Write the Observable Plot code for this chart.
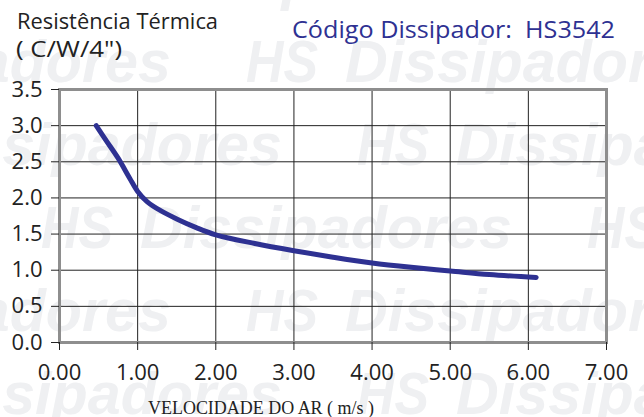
<!DOCTYPE html>
<html>
<head>
<meta charset="utf-8">
<script src="https://cdn.jsdelivr.net/npm/d3@7"></script>
<script src="https://cdn.jsdelivr.net/npm/@observablehq/plot@0.6"></script>
<style>
  body { margin: 0; background: #fff; }
  #wrap { position: relative; width: 644px; height: 417px; overflow: hidden; }
  #wm, #chart, #titles { position: absolute; left: 0; top: 0; }
</style>
</head>
<body>
<div id="wrap">
  <svg id="wm" width="644" height="417"></svg>
  <div id="chart"></div>
  <svg id="titles" width="644" height="417"></svg>
</div>
<script>
// Data
const speed = [0.47, 0.6, 0.75, 0.9, 1.0, 1.12, 1.3, 1.5, 1.75, 2.0, 2.5, 3.0, 3.5, 4.0, 4.5, 5.0, 5.5, 6.1];
const resistance = [3.0, 2.79, 2.55, 2.27, 2.09, 1.95, 1.82, 1.71, 1.59, 1.49, 1.37, 1.27, 1.18, 1.10, 1.04, 0.99, 0.94, 0.90];
const xTicks = [0, 1, 2, 3, 4, 5, 6, 7];
const yTicks = [0, 0.5, 1.0, 1.5, 2.0, 2.5, 3.0, 3.5];
const yTitle = ["Resistência Térmica", "( C/W/4\")"];
const codeTitle = "Código Dissipador:  HS3542";
const xTitle = "VELOCIDADE DO AR ( m/s )";
const watermarkWords = ["HS", "Dissipadores"];

const data = speed.map((s, i) => ({speed: s, resistance: resistance[i]}));

// Watermark (decorative background)
const wm = d3.select("#wm");
const rows = [
  {y: -1, x: 41}, {y: 82, x: 246}, {y: 165, x: 357},
  {y: 248, x: 41}, {y: 331, x: 246}, {y: 414, x: 357}
];
const period = 546;
function wmText(x, y, word, len) {
  wm.append("text").attr("x", x).attr("y", y)
    .attr("font-family", "Liberation Sans, Arial, sans-serif")
    .attr("font-weight", "bold").attr("font-style", "italic")
    .attr("font-size", 60).attr("fill", "#eff0f2")
    .attr("textLength", len).attr("lengthAdjust", "spacingAndGlyphs")
    .text(word);
}
rows.forEach(r => {
  for (let k = -2; k <= 2; k++) {
    const x0 = r.x + k * period;
    if (x0 < 644 && x0 + 75 > 0) wmText(x0, r.y, watermarkWords[0], 72);
    if (x0 + 99 < 644 && x0 + 99 + 372 > 0) wmText(x0 + 99, r.y, watermarkWords[1], 372);
  }
});

const chart = Plot.plot({
  width: 644,
  height: 417,
  marginLeft: 59,
  marginRight: 38,
  marginTop: 89,
  marginBottom: 75,
  style: {background: "transparent", fontFamily: "'Open Sans', sans-serif", fontSize: "22px", color: "#222"},
  x: {domain: [0, 7]},
  y: {domain: [0, 3.5]},
  marks: [
    Plot.gridX(xTicks, {stroke: "#222", strokeOpacity: 1, strokeWidth: 1}),
    Plot.gridY(yTicks, {stroke: "#222", strokeOpacity: 1, strokeWidth: 1}),
    Plot.frame({stroke: "#8e8e8e", strokeWidth: 3}),
    Plot.axisX(xTicks, {tickSize: 8, tickPadding: 14, tickFormat: d => d.toFixed(2), label: null, stroke: "#222", fontSize: 22, fill: "#222"}),
    Plot.axisY(yTicks, {tickSize: 8, tickPadding: 9, tickFormat: d => d.toFixed(1), label: null, stroke: "#222", fontSize: 22, fill: "#222"}),
    Plot.line(data, {x: "speed", y: "resistance", stroke: "#2e3192", strokeWidth: 5, curve: "catmull-rom"})
  ]
});
document.getElementById("chart").appendChild(chart);

// Titles
const t = d3.select("#titles");
t.append("text").attr("x", 17).attr("y", 29).attr("font-family", "'Open Sans', sans-serif")
  .attr("font-size", 21).attr("fill", "#222")
  .attr("textLength", 201).attr("lengthAdjust", "spacingAndGlyphs").text(yTitle[0]);
t.append("text").attr("x", 16).attr("y", 57).attr("font-family", "'Open Sans', sans-serif")
  .attr("font-size", 22).attr("fill", "#222")
  .attr("textLength", 106).attr("lengthAdjust", "spacingAndGlyphs").text(yTitle[1]);
t.append("text").attr("x", 292).attr("y", 38).attr("font-family", "'Open Sans', sans-serif")
  .attr("font-size", 23).attr("fill", "#2e3192").attr("xml:space", "preserve").style("white-space", "pre")
  .attr("textLength", 323).attr("lengthAdjust", "spacingAndGlyphs").text(codeTitle);
t.append("text").attr("x", 261).attr("y", 414).attr("text-anchor", "middle")
  .attr("font-family", "'Liberation Serif', 'Times New Roman', serif")
  .attr("font-size", 18).attr("fill", "#222")
  .attr("textLength", 226).attr("lengthAdjust", "spacingAndGlyphs").text(xTitle);
</script>
</body>
</html>
